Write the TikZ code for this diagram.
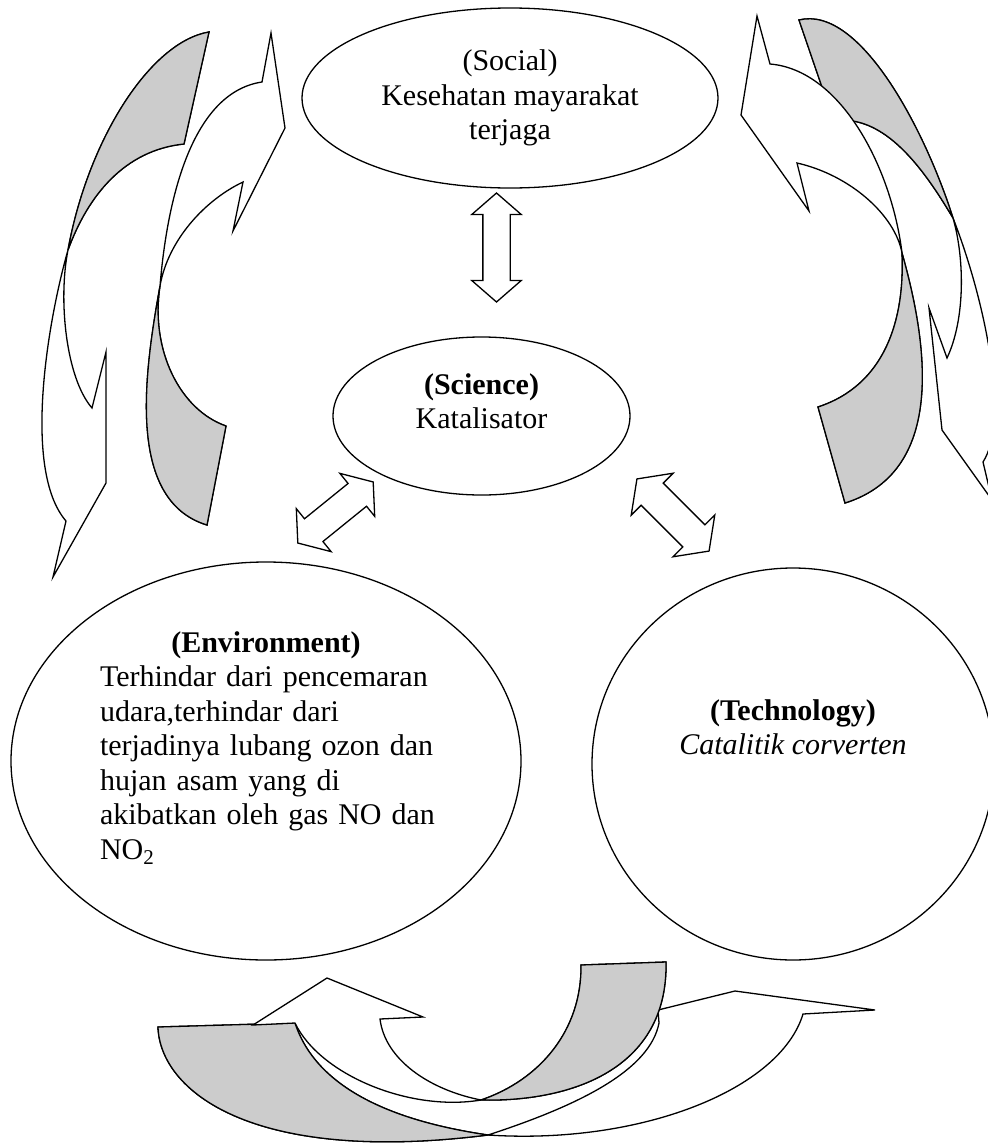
\documentclass[tikz,border=0pt]{standalone}
\usepackage{fontspec}
\setmainfont{Liberation Serif}
\usepackage{tikz}
\usetikzlibrary{shapes.geometric, shapes.arrows}
\definecolor{backgrey}{RGB}{204, 204, 204}

\begin{document}
\begin{tikzpicture}[
    x=1pt, y=-1pt,
    every node/.style={font=\fontsize{30}{34.5}\selectfont},
    bubble/.style={ellipse, draw=black, line width=1.3pt, fill=white, inner sep=0pt},
    txt/.style={align=center, inner sep=0pt},
    twoway/.style={double arrow, draw=black, line width=1.3pt, fill=white, inner xsep=0pt},
    band/.style={draw=black, line width=1.3pt, fill=white},
    bandback/.style={band, fill=backgrey}
]
\useasboundingbox (0,0) rectangle (988,1146);
\clip (0,0) rectangle (988,1146);

% The four fields
\node[bubble, minimum width=416pt, minimum height=180pt] (social) at (510,98) {};
\node[bubble, minimum width=297pt, minimum height=158pt] (science) at (481.5,416) {};
\node[bubble, minimum width=510pt, minimum height=398pt] (env) at (266,761) {};
\node[bubble, minimum width=402pt, minimum height=392pt] (tech) at (793,764) {};

\node[txt] (socialtxt) at (social.center) {(Social)\\Kesehatan mayarakat\\terjaga};
\node[txt] (sciencetxt) at ([yshift=15pt]science.center) {\textbf{(Science)}\\Katalisator};
\node[txt, text width=350pt, align=left] (envtxt) at ([xshift=9pt, yshift=13pt]env.center)
  {\makebox[332pt]{\textbf{(Environment)}}\\Terhindar dari pencemaran\\udara,terhindar dari\\terjadinya lubang ozon dan\\hujan asam yang di\\akibatkan oleh gas NO dan\\NO\textsubscript{2}};
\node[txt] (techtxt) at ([yshift=37pt]tech.center) {\textbf{(Technology)}\\\textit{Catalitik corverten}};

% Block arrows round Science
\node[twoway, rotate=90, inner ysep=13pt, minimum height=109pt, minimum width=48pt, double arrow head extend=11pt, double arrow tip angle=98] (socsci) at (496.5,247.5) {};
\node[twoway, rotate=39, inner ysep=14pt, minimum height=97pt, minimum width=54pt, double arrow head extend=13pt, double arrow tip angle=107] (scienv) at (335.5,512.5) {};
\node[twoway, rotate=-45, inner ysep=15pt, minimum height=102pt, minimum width=58pt, double arrow head extend=14pt, double arrow tip angle=108] (scitech) at (673,515) {};

% Left pair of curved arrows
\draw[band] (209,32) .. controls (150,42) and (88,140) .. (68,250)
  .. controls (48,320) and (22,470) .. (66,521) -- (53,577) -- (106,483) -- (106,352) -- (92,408)
  .. controls (66,378) and (58,300) .. (68,250)
  .. controls (88,195) and (125,150) .. (184,144) -- cycle;
\draw[bandback] (209,32) .. controls (150,42) and (88,140) .. (68,250)
  .. controls (88,195) and (125,150) .. (184,144) -- cycle;

\draw[band] (262,82) .. controls (195,92) and (168,190) .. (160,286)
  .. controls (145,370) and (125,500) .. (207,525) -- (226,426)
  .. controls (180,410) and (150,350) .. (160,286)
  .. controls (168,240) and (205,200) .. (243,182) -- (233,231) -- (285,128) -- (271,33) -- cycle;
\draw[bandback] (160,286) .. controls (145,370) and (125,500) .. (207,525) -- (226,426)
  .. controls (180,410) and (150,350) .. (160,286) -- cycle;

% Right pair of curved arrows
\draw[band] (799,20) .. controls (860,5) and (925,130) .. (953,218)
  .. controls (985,300) and (1010,420) .. (983,462) -- (992,500) -- (942,430) -- (929,308) -- (947,358)
  .. controls (965,320) and (965,260) .. (953,218)
  .. controls (928,176) and (895,128) .. (853,121) -- (835,125) -- cycle;
\draw[bandback] (799,20) .. controls (860,5) and (925,130) .. (953,218)
  .. controls (928,176) and (895,128) .. (853,121) -- (835,125) -- cycle;

\draw[band] (770,64) .. controls (842,70) and (892,170) .. (902,253)
  .. controls (925,335) and (950,470) .. (845,503) -- (818,407)
  .. controls (885,385) and (905,320) .. (902,253)
  .. controls (895,215) and (850,175) .. (797,163) -- (809,211) -- (741,115) -- (757,16) -- cycle;
\draw[bandback] (902,253) .. controls (925,335) and (950,470) .. (845,503) -- (818,407)
  .. controls (885,385) and (905,320) .. (902,253) -- cycle;

% Bottom pair of curved arrows
\draw[band] (158,1027) .. controls (160,1090) and (250,1165) .. (488,1135)
  .. controls (640,1145) and (780,1090) .. (803,1014) -- (875,1010) -- (735,991) -- (658,1010) -- (659,1023)
  .. controls (650,1070) and (580,1105) .. (488,1135)
  .. controls (420,1125) and (320,1100) .. (295,1023) -- cycle;
\draw[bandback] (158,1027) .. controls (160,1090) and (250,1165) .. (488,1135)
  .. controls (420,1125) and (320,1100) .. (295,1023) -- cycle;

\draw[band] (295,1023) .. controls (320,1075) and (410,1112) .. (481,1100)
  .. controls (570,1102) and (668,1070) .. (666,962) -- (581,965)
  .. controls (582,1030) and (540,1080) .. (481,1100)
  .. controls (430,1090) and (385,1060) .. (380,1019) -- (423,1017) -- (327,978) -- (253,1025) -- cycle;
\draw[bandback] (481,1100) .. controls (570,1102) and (668,1070) .. (666,962) -- (581,965)
  .. controls (582,1030) and (540,1080) .. (481,1100) -- cycle;

\end{tikzpicture}
\end{document}
